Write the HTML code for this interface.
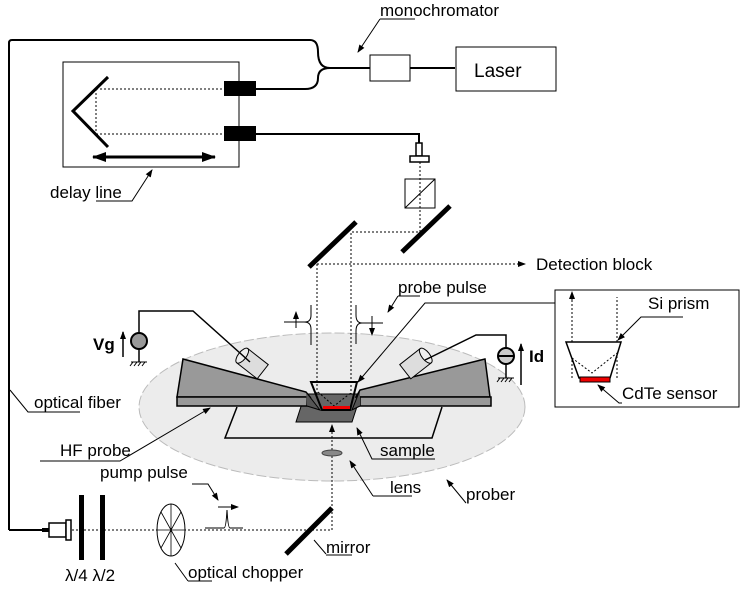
<!DOCTYPE html>
<html><head><style>body{margin:0;background:#fff}svg{display:block}text{font-family:"Liberation Sans",Arial,sans-serif;font-size:17px;fill:#000}</style></head>
<body>
<svg width="747" height="600" viewBox="0 0 747 600" xmlns="http://www.w3.org/2000/svg">
<defs>
<marker id="a" markerWidth="8" markerHeight="8" refX="7" refY="4" orient="auto" markerUnits="userSpaceOnUse"><path d="M0,1 L8,4 L0,7z" fill="#000"/></marker>
<marker id="b" markerWidth="14" markerHeight="10" refX="13" refY="5" orient="auto-start-reverse" markerUnits="userSpaceOnUse"><path d="M0,0 L14,5 L0,10z" fill="#000"/></marker>
</defs>
<ellipse cx="332" cy="407" rx="193" ry="74" fill="#ececec" stroke="#bbb" stroke-dasharray="10,3"/>
<g fill="none" stroke="#000" stroke-width="2">
<path d="M9,530 V43 Q9,40 12,40 H310 Q318,40 318,52 Q318,68 330,68 H370"/>
<path d="M255,89 H305 Q318,89 318,78 Q318,68 330,68"/>
<path d="M410,68 H455"/>
<path d="M255,134 H419 V143"/>
<path d="M9,530 H45"/>
</g>
<rect x="370" y="55" width="40" height="26" fill="#fff" stroke="#000"/>
<rect x="456" y="47" width="100" height="44" fill="#fff" stroke="#000"/>
<text x="474" y="77" style="font-size:19px">Laser</text>
<text x="380" y="16">monochromator</text>
<path d="M380,19 H415 M380,19 L358,52" stroke="#000" fill="none" marker-end="url(#a)"/>
<rect x="63" y="62" width="176" height="105" fill="#fff" stroke="#000"/>
<rect x="224" y="81" width="32" height="15" fill="#000"/>
<rect x="224" y="126" width="32" height="15" fill="#000"/>
<path d="M108,77 L73,111 L108,147" fill="none" stroke="#000" stroke-width="3"/>
<path d="M96,89 H224 M96,134 H224 M96,89 V134" stroke="#000" stroke-dasharray="2,2" fill="none"/>
<path d="M93,157 H215" stroke="#000" stroke-width="3" marker-start="url(#b)" marker-end="url(#b)"/>
<text x="50" y="198">delay line</text>
<path d="M96,201 H132 L152,170" stroke="#000" fill="none" marker-end="url(#a)"/>
<rect x="416" y="143" width="6" height="13" fill="#fff" stroke="#000" stroke-width="1.5"/>
<rect x="410" y="156" width="19" height="6" fill="#fff" stroke="#000" stroke-width="1.5"/>
<rect x="405" y="179" width="30" height="29" fill="#fff" stroke="#000"/>
<path d="M405,208 L435,179" stroke="#000"/>
<path d="M420,162 V232 H351 V398 M317,264 H523 M317,264 V398" stroke="#000" stroke-dasharray="2,2" fill="none"/>
<path d="M518,264 H525" stroke="#000" marker-end="url(#a)"/>
<text x="536" y="270">Detection block</text>
<path d="M309,267 L356,222 M402,252 L450,206" stroke="#000" stroke-width="5"/>
<text x="398" y="293">probe pulse</text>
<path d="M398,296 H420 M398,296 L388,312" stroke="#000" fill="none" marker-end="url(#a)"/>
<path d="M555,303 H425 L358,382" stroke="#000" fill="none" marker-end="url(#a)"/>
<path d="M284,322 H305 Q311,322 311,315 V305 M304,322 Q311,322 311,329 V345" stroke="#000" fill="none"/>
<path d="M296,328 V312" stroke="#000" marker-end="url(#a)"/>
<path d="M383,323 H362 Q356,323 356,315 V305 M362,323 Q356,323 356,331 V344" stroke="#000" fill="none"/>
<path d="M372,316 V335" stroke="#000" marker-end="url(#a)"/>
<path d="M237,407 L225,438 H432 L442,407" fill="none" stroke="#000" stroke-width="1.5"/>
<path d="M296,422 H352 L361,394 H305Z" fill="#666" stroke="#000"/>
<path d="M183,359 L306,392 L310,397 H177Z" fill="#999" stroke="#000" stroke-width="1.5"/>
<rect x="177" y="397" width="130" height="9" fill="#999" stroke="#000" stroke-width="1.5"/>
<path d="M306,392 L320,410 L307,406" fill="#555" stroke="#000"/>
<path d="M485,359 L360,390 L356,397 H490Z" fill="#999" stroke="#000" stroke-width="1.5"/>
<rect x="360" y="397" width="131" height="9" fill="#999" stroke="#000" stroke-width="1.5"/>
<path d="M360,390 L352,410 L360,406" fill="#555" stroke="#000"/>
<path d="M311,382 H357 L350,410 H322Z" fill="none" stroke="#000" stroke-width="2"/>
<path d="M318,392 L334,406 L352,392" stroke="#000" stroke-dasharray="2,2" fill="none"/>
<rect x="323" y="406" width="27" height="3" fill="#e00"/>
<g transform="translate(258,368) rotate(38)"><rect x="-20" y="-9" width="26" height="18" fill="#ddd" stroke="#000"/><ellipse cx="-20" cy="0" rx="4" ry="9" fill="#eee" stroke="#000"/></g>
<g transform="translate(410,368) rotate(-38)"><rect x="-6" y="-9" width="26" height="18" fill="#ddd" stroke="#000"/><ellipse cx="20" cy="0" rx="4" ry="9" fill="#eee" stroke="#000"/></g>
<path d="M139,333 V311 H193 L250,362 M139,349 V362 M506,348 V335 H476 L425,360 M506,364 V378" fill="none" stroke="#000" stroke-width="1.5"/>
<circle cx="139" cy="341" r="8" fill="#999" stroke="#000" stroke-width="2"/>
<circle cx="506" cy="356" r="8" fill="#ccc" stroke="#000" stroke-width="2"/>
<path d="M498,356 H514" stroke="#000" stroke-width="2"/>
<path d="M131,362 H147 M133,362 l-3,4 M137,362 l-3,4 M141,362 l-3,4 M145,362 l-3,4 M498,378 H514 M500,378 l-3,4 M504,378 l-3,4 M508,378 l-3,4 M512,378 l-3,4" stroke="#000"/>
<path d="M123,357 V332" stroke="#000" stroke-width="1.5" marker-end="url(#a)"/>
<path d="M521,385 V344" stroke="#000" stroke-width="1.5" marker-end="url(#a)"/>
<text x="93" y="350" style="font-weight:bold">Vg</text>
<text x="529" y="362" style="font-weight:bold">Id</text>
<rect x="555" y="290" width="184" height="117" fill="#fff" stroke="#000"/>
<path d="M572,378 V297 M617,378 V297" stroke="#000" stroke-dasharray="2,2" fill="none"/>
<path d="M572,300 V292" stroke="#000" marker-end="url(#a)"/>
<path d="M566,342 H621 L610,378 H579Z" fill="#fff" stroke="#000" stroke-width="1.5"/>
<path d="M572,358 L592,373 L617,353" stroke="#000" stroke-dasharray="2,2" fill="none"/>
<rect x="580" y="377" width="30" height="5" fill="#e00" stroke="#000"/>
<text x="648" y="309">Si prism</text>
<path d="M683,317 H641 L618,340" stroke="#000" fill="none" marker-end="url(#a)"/>
<text x="622" y="399">CdTe sensor</text>
<path d="M622,403 H619 L598,385" stroke="#000" fill="none" marker-end="url(#a)"/>
<text x="34" y="408">optical fiber</text>
<path d="M10,390 L28,412 H80" stroke="#000" fill="none"/>
<text x="60" y="456">HF probe</text>
<path d="M40,461 H120 L210,408" stroke="#000" fill="none" marker-end="url(#a)"/>
<text x="380" y="456">sample</text>
<path d="M383,459 H435" stroke="#000" fill="none"/>
<path d="M383,459 L372,459 L357,428" stroke="#000" fill="none" marker-end="url(#a)"/>
<path d="M332,530 V430" stroke="#000" stroke-dasharray="2,2" fill="none"/>
<path d="M332,432 V425" stroke="#000" marker-end="url(#a)"/>
<ellipse cx="332" cy="453" rx="10" ry="3" fill="#888" stroke="#444"/>
<text x="390" y="493">lens</text>
<path d="M373,496 L350,461" stroke="#000" fill="none" marker-end="url(#a)"/>
<path d="M373,496 H412" stroke="#000"/>
<text x="466" y="500">prober</text>
<path d="M466,503 L447,480" stroke="#000" fill="none" marker-end="url(#a)"/>
<path d="M72,530 H332" stroke="#000" stroke-dasharray="2,2"/>
<path d="M286,554 L332,508" stroke="#000" stroke-width="5"/>
<text x="326" y="553">mirror</text>
<path d="M326,554 L314,540 M326,555 H352" stroke="#000" fill="none"/>
<rect x="42" y="528" width="7" height="4" fill="#000"/>
<rect x="49" y="523" width="17" height="14" fill="#fff" stroke="#000" stroke-width="1.5"/>
<rect x="66" y="520" width="5" height="20" fill="#fff" stroke="#000" stroke-width="1.5"/>
<rect x="79" y="495" width="5" height="65" fill="#000"/>
<rect x="100" y="495" width="5" height="65" fill="#000"/>
<text x="65" y="581">λ/4 λ/2</text>
<ellipse cx="171" cy="530" rx="14" ry="26" fill="#fff" stroke="#000"/>
<path d="M171,504 V556 M157,530 H185 M161,512 L181,548 M161,548 L181,512" stroke="#000" stroke-width="0.8"/>
<text x="188" y="578">optical chopper</text>
<path d="M188,581 H212 M188,581 L175,563" stroke="#000" fill="none"/>
<text x="100" y="478">pump pulse</text>
<path d="M192,484 H208 L218,500" stroke="#000" fill="none" marker-end="url(#a)"/>
<path d="M205,528 H224 Q226,528 227,510 Q228,528 230,528 H243" stroke="#000" fill="none"/>
<path d="M218,507 H238" stroke="#000" marker-end="url(#a)"/>
</svg>
</body></html>
